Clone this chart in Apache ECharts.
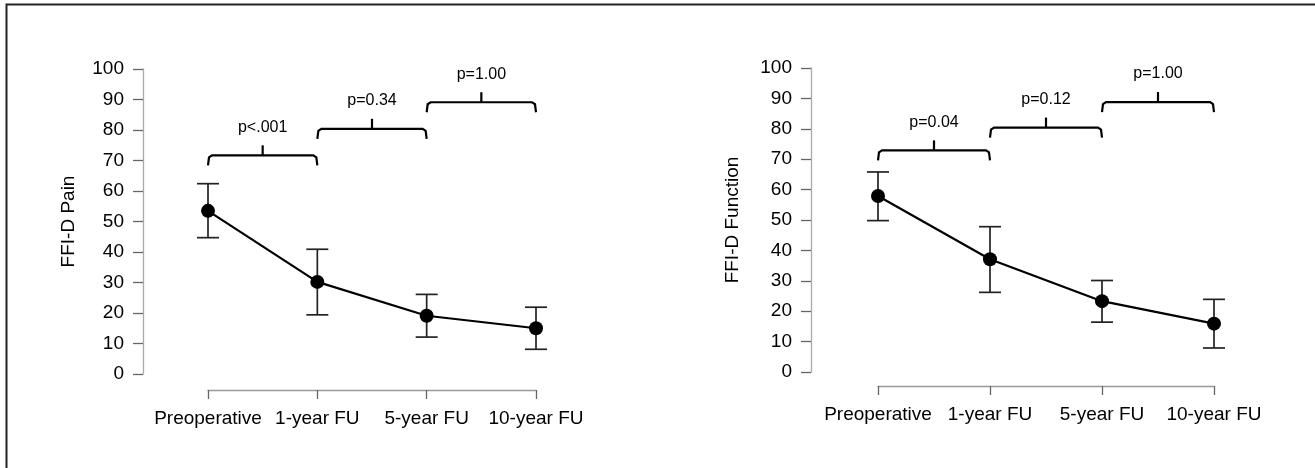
<!DOCTYPE html>
<html lang="en">
<head>
<meta charset="UTF-8">
<title>FFI-D</title>
<script src="https://cdn.jsdelivr.net/npm/echarts@6/dist/echarts.min.js"></script>
<style>
  html, body { margin: 0; padding: 0; background: #fff; }
  #main { width: 1315px; height: 468px; }
</style>
</head>
<body>
<div id="main"></div>
<script type="text/javascript">
// data
var categories = ['Preoperative', '1-year FU', '5-year FU', '10-year FU'];

var painMean = [53.5, 30.2, 19.1, 15.0];
var painLow  = [44.7, 19.4, 12.1, 8.1];
var painHigh = [62.4, 40.9, 26.1, 21.9];
var painBracketLevel = [71.7, 80.4, 89.1];
var painP = ['p<.001', 'p=0.34', 'p=1.00'];

var funcMean = [57.9, 37.1, 23.3, 15.9];
var funcLow  = [49.8, 26.2, 16.4, 7.9];
var funcHigh = [65.8, 47.8, 30.1, 23.9];
var funcBracketLevel = [72.9, 80.4, 88.8];
var funcP = ['p=0.04', 'p=0.12', 'p=1.00'];

var FONT = 'Liberation Sans';
var TXT = '#000';

var chart = echarts.init(document.getElementById('main'));

// vertical error bars with caps
function errorBars(low, high, idx) {
    return {
        type: 'custom',
        xAxisIndex: idx, yAxisIndex: idx,
        z: 2,
        data: low.map(function (v, i) { return [i, v, high[i]]; }),
        renderItem: function (params, api) {
            var lo = api.coord([api.value(0), api.value(1)]);
            var hi = api.coord([api.value(0), api.value(2)]);
            var w = 11;
            var st = { stroke: '#222', lineWidth: 1.7 };
            return {
                type: 'group',
                children: [
                    { type: 'line', shape: { x1: lo[0], y1: lo[1], x2: hi[0], y2: hi[1] }, style: st },
                    { type: 'line', shape: { x1: lo[0] - w, y1: lo[1], x2: lo[0] + w, y2: lo[1] }, style: st },
                    { type: 'line', shape: { x1: hi[0] - w, y1: hi[1], x2: hi[0] + w, y2: hi[1] }, style: st }
                ]
            };
        }
    };
}

// significance brackets between neighbouring time points
function brackets(levels, labels, idx) {
    return {
        type: 'custom',
        xAxisIndex: idx, yAxisIndex: idx,
        z: 3,
        data: levels.map(function (v, i) { return [i, v]; }),
        renderItem: function (params, api) {
            var a = api.coord([api.value(0), api.value(1)]);
            var b = api.coord([api.value(0) + 1, api.value(1)]);
            var y = a[1], xm = (a[0] + b[0]) / 2;
            var st = { stroke: '#000', lineWidth: 2.2, fill: null };
            return {
                type: 'group',
                children: [
                    { type: 'polyline', shape: { points: [[a[0], y + 10], [a[0] + 1, y + 2], [a[0] + 4, y], [b[0] - 4, y], [b[0] - 1, y + 2], [b[0], y + 10]] }, style: st },
                    { type: 'line', shape: { x1: xm, y1: y, x2: xm, y2: y - 10 }, style: st },
                    { type: 'text', style: { text: labels[params.dataIndex], x: xm, y: y - 28,
                        align: 'center', verticalAlign: 'middle', fill: TXT, font: '16px "' + FONT + '"' } }
                ]
            };
        }
    };
}

function meanLine(mean, idx) {
    return {
        type: 'line',
        xAxisIndex: idx, yAxisIndex: idx,
        z: 4,
        data: mean,
        symbol: 'circle',
        symbolSize: 14,
        itemStyle: { color: '#000' },
        lineStyle: { color: '#000', width: 2.2 }
    };
}

function xAx(idx, offset) {
    return {
        type: 'category', gridIndex: idx, data: categories,
        boundaryGap: false, offset: offset,
        axisLine: { onZero: false, lineStyle: { color: '#999', width: 1.3 } },
        axisTick: { length: 9, lineStyle: { color: '#666', width: 1.3 } },
        axisLabel: { color: TXT, fontFamily: FONT, fontSize: 19, margin: 19, interval: 0 },
        splitLine: { show: false }
    };
}

function yAx(idx, offset, name, gap) {
    return {
        type: 'value', gridIndex: idx, min: 0, max: 100, interval: 10,
        offset: offset,
        name: name, nameLocation: 'middle', nameGap: gap,
        nameTextStyle: { color: TXT, fontFamily: FONT, fontSize: 19 },
        axisLine: { show: true, lineStyle: { color: '#aaa', width: 1.3 } },
        axisTick: { show: true, length: 10, lineStyle: { color: '#666', width: 1.3 } },
        axisLabel: { color: TXT, fontFamily: FONT, fontSize: 19, margin: 19 },
        splitLine: { show: false }
    };
}

var option = {
    animation: false,
    backgroundColor: '#fff',
    graphic: [{
        type: 'rect', silent: true,
        shape: { x: 6.5, y: 4.5, width: 1400, height: 600 },
        style: { fill: null, stroke: '#222', lineWidth: 2 }
    }],
    grid: [
        { left: 208, right: 779, top: 69, bottom: 94 },
        { left: 878, right: 101, top: 68, bottom: 96 }
    ],
    xAxis: [xAx(0, 16), xAx(1, 14)],
    yAxis: [yAx(0, 65, 'FFI-D Pain', 65), yAx(1, 67, 'FFI-D Function', 69)],
    series: [
        errorBars(painLow, painHigh, 0),
        meanLine(painMean, 0),
        brackets(painBracketLevel, painP, 0),
        errorBars(funcLow, funcHigh, 1),
        meanLine(funcMean, 1),
        brackets(funcBracketLevel, funcP, 1)
    ]
};

chart.setOption(option);
</script>
</body>
</html>
